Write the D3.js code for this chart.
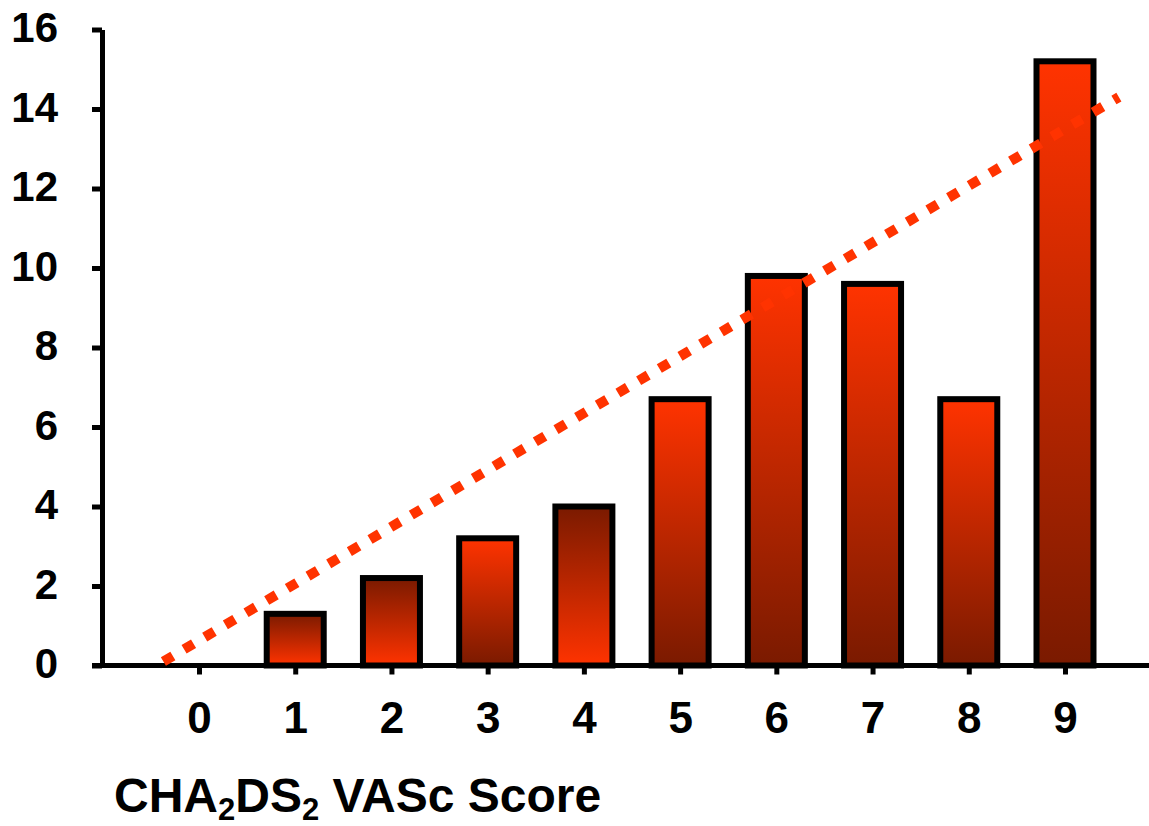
<!DOCTYPE html>
<html>
<head>
<meta charset="utf-8">
<script src="https://cdn.jsdelivr.net/npm/d3@7"></script>
<style>
  html, body { margin: 0; padding: 0; background: #fff; }
  svg { display: block; }
  text { font-family: "Liberation Sans", Arial, sans-serif; font-weight: bold; fill: #000; }
</style>
</head>
<body>
<svg id="chart" width="1149" height="826"></svg>
<script>
// ---- data ----
const categories = ["0", "1", "2", "3", "4", "5", "6", "7", "8", "9"];
const values = [0, 1.3, 2.2, 3.2, 4.0, 6.7, 9.8, 9.6, 6.7, 15.2];
const yTicks = [0, 2, 4, 6, 8, 10, 12, 14, 16];
// which way each bar's shading runs (true = bright at top)
const brightTop = [true, false, false, true, false, true, true, true, true, true];
// dotted trend line end points (category index, value)
const trendX = [-0.37, 9.56];
const trendY = [0.1, 14.3];
const axisTitle = [["CHA", false], ["2", true], ["DS", false], ["2", true], [" VASc Score", false]];

// ---- layout ----
const svg = d3.select("#chart");
const x = d3.scaleLinear().domain([0, categories.length - 1]).range([199, 1065]);
const y = d3.scaleLinear().domain([0, 16]).range([665.5, 29.5]);
const axisX = 102;
const barW = 57;
const bright = "#ff3300", dark = "#7a1a00";

const defs = svg.append("defs");
function grad(id, top, bottom) {
  const g = defs.append("linearGradient").attr("id", id)
    .attr("x1", 0).attr("y1", 0).attr("x2", 0).attr("y2", 1);
  g.append("stop").attr("offset", "0%").attr("stop-color", top);
  g.append("stop").attr("offset", "100%").attr("stop-color", bottom);
}
grad("gBrightTop", bright, dark);
grad("gDarkTop", dark, bright);

// bars
const barData = values.map((v, i) => ({ i, v })).filter(d => d.v > 0);
svg.append("g").selectAll("rect").data(barData).join("rect")
  .attr("x", d => x(d.i) - barW / 2)
  .attr("width", barW)
  .attr("y", d => y(d.v))
  .attr("height", d => y(0) - y(d.v))
  .attr("fill", d => brightTop[d.i] ? "url(#gBrightTop)" : "url(#gDarkTop)")
  .attr("stroke", "#000")
  .attr("stroke-width", 6);

// y axis
const yAxis = svg.append("g").attr("transform", `translate(${axisX},0)`)
  .call(d3.axisLeft(y).tickValues(yTicks).tickSize(10).tickSizeOuter(0).tickPadding(34));
yAxis.select(".domain").attr("stroke", "#000").attr("stroke-width", 5);
yAxis.selectAll(".tick line").attr("stroke", "#000").attr("stroke-width", 5);
yAxis.selectAll(".tick text").style("font-size", "42px").attr("dy", "0.29em");

// x axis
const xAxis = svg.append("g").attr("transform", `translate(0,${y(0)})`)
  .call(d3.axisBottom(x).tickValues(d3.range(categories.length))
    .tickFormat(i => categories[i]).tickSize(9).tickPadding(27));
xAxis.select(".domain").remove();
xAxis.selectAll(".tick line").attr("stroke", "#000").attr("stroke-width", 5);
xAxis.selectAll(".tick text").style("font-size", "44px");
svg.append("line")
  .attr("x1", axisX - 10).attr("x2", 1149)
  .attr("y1", y(0)).attr("y2", y(0))
  .attr("stroke", "#000").attr("stroke-width", 5);

// trend line
svg.append("line")
  .attr("x1", x(trendX[0])).attr("y1", y(trendY[0]))
  .attr("x2", x(trendX[1])).attr("y2", y(trendY[1]))
  .attr("stroke", bright).attr("stroke-width", 10)
  .attr("stroke-dasharray", "11,13");

// axis title
const title = svg.append("text").attr("x", 114).attr("y", 812).style("font-size", "48px");
axisTitle.forEach(([t, sub], k) => {
  const prevSub = k > 0 && axisTitle[k - 1][1];
  title.append("tspan").text(t)
    .style("font-size", sub ? "31px" : "48px")
    .attr("dy", sub ? 8 : (prevSub ? -8 : 0));
});
</script>
</body>
</html>
